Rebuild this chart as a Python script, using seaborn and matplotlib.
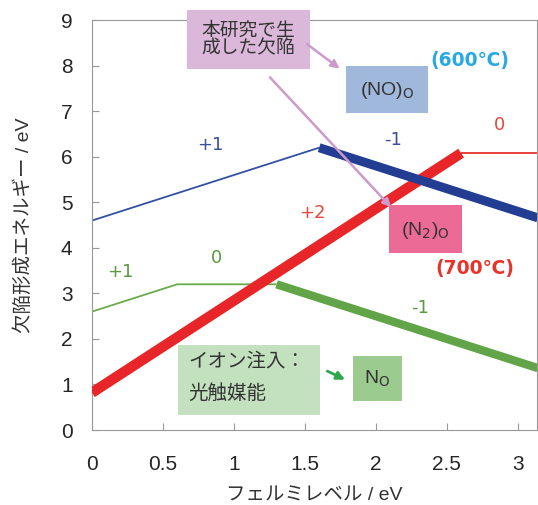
import numpy as np
import pandas as pd
import seaborn as sns
from matplotlib import pyplot as plt
from matplotlib.patches import Rectangle

sns.set_style('ticks')
plt.rcParams['font.family'] = ['Liberation Sans', 'Noto Sans CJK JP', 'DejaVu Sans']
plt.rcParams['mathtext.fontset'] = 'custom'
plt.rcParams['mathtext.rm'] = 'DejaVu Sans'

# (NO)O line, 600C
blue_x_thin = [0, 1.6]
blue_y_thin = [4.6, 6.2]
blue_x_thick = [1.6, 3.14]
blue_y_thick = [6.2, 4.66]
# (N2)O line, 700C
red_x_thick = [0, 2.6]
red_y_thick = [0.82, 6.08]
red_x_thin = [2.6, 3.14]
red_y_thin = [6.08, 6.08]
# NO line
green_x_thin = [0, 0.6, 1.3]
green_y_thin = [2.6, 3.2, 3.2]
green_x_thick = [1.3, 3.14]
green_y_thick = [3.2, 1.36]

xticks = [0, 0.5, 1, 1.5, 2, 2.5, 3]
xticklabels = ['0', '0.5', '1', '1.5', '2', '2.5', '3']
yticks = list(range(0, 10))

fig = plt.figure(figsize=(5.38, 5.05), dpi=100)
ax = fig.add_axes([0.171, 0.1485, 0.827, 0.8115])

def seg(x, y, color, lw, z=2):
    df = pd.DataFrame({'x': x, 'y': y})
    sns.lineplot(data=df, x='x', y='y', color=color, linewidth=lw, ax=ax,
                 solid_capstyle='butt', zorder=z, sort=False)

seg(blue_x_thin, blue_y_thin, '#3450a0', 1.3)
seg(green_x_thin, green_y_thin, '#6aab4c', 1.3)
seg(red_x_thin, red_y_thin, '#e8302e', 1.3)
seg(green_x_thick, green_y_thick, '#62a448', 6)
seg(red_x_thick, red_y_thick, '#e8262a', 7.5, z=3)
seg(blue_x_thick, blue_y_thick, '#223d92', 6.5, z=4)

# charge state labels
lab = dict(fontsize=13, ha='center', va='center', family=['DejaVu Sans'])
ax.text(0.83, 6.25, '+1', color='#3a4f9e', **lab)
ax.text(2.12, 6.36, '-1', color='#3a4f9e', **lab)
ax.text(2.87, 6.7, '0', color='#e8473a', **lab)
ax.text(1.55, 4.76, '+2', color='#e8473a', **lab)
ax.text(0.2, 3.47, '+1', color='#5a9a3a', **lab)
ax.text(0.88, 3.77, '0', color='#5a9a3a', **lab)
ax.text(2.31, 2.67, '-1', color='#5a9a3a', **lab)
ax.text(2.66, 8.12, '(600℃)', color='#29a9e1', fontsize=13.5, fontweight='bold',
        ha='center', va='center', family=['DejaVu Sans'])
ax.text(2.70, 3.55, '(700℃)', color='#e8332a', fontsize=13.5, fontweight='bold',
        ha='center', va='center', family=['DejaVu Sans'])

# boxes
def box(x0, x1, y0, y1, color):
    ax.add_patch(Rectangle((x0, y0), x1 - x0, y1 - y0, facecolor=color,
                           edgecolor='none', zorder=5, clip_on=False))

box(0.669, 1.535, 7.92, 9.22, '#dbb7d9')
ax.text(1.10, 8.57, '本研究で生\n成した欠陥', fontsize=13.5, ha='center', va='center',
        color='#333333', zorder=6, linespacing=1.05)
box(1.789, 2.366, 6.96, 7.99, '#a0b8dc')
ax.text(2.08, 7.45, '(NO)$_\\mathrm{O}$', fontsize=14, ha='center', va='center', color='#333333', zorder=6)
box(2.092, 2.606, 3.88, 4.94, '#ec6b96')
ax.text(2.35, 4.38, '(N$_2$)$_\\mathrm{O}$', fontsize=14, ha='center', va='center', color='#333333', zorder=6)
box(0.606, 1.606, 0.33, 1.87, '#c3e1bf')
ax.text(0.68, 1.5, 'イオン注入：', fontsize=14, ha='left', va='center', color='#333333', zorder=6)
ax.text(0.68, 0.8, '光触媒能', fontsize=14, ha='left', va='center', color='#333333', zorder=6)
box(1.838, 2.183, 0.64, 1.62, '#9ccb8f')
ax.text(2.01, 1.13, 'N$_\\mathrm{O}$', fontsize=14, ha='center', va='center', color='#333333', zorder=6)

# arrows
arrow_kw = dict(arrowstyle='-|>', color='#cc9acb', lw=1.8, mutation_scale=12)
ax.annotate('', xy=(1.76, 7.90), xytext=(1.50, 8.51), arrowprops=arrow_kw, zorder=6)
ax.annotate('', xy=(2.12, 4.85), xytext=(1.24, 7.79), arrowprops=arrow_kw, zorder=6)
ax.annotate('', xy=(1.80, 1.08), xytext=(1.64, 1.32),
            arrowprops=dict(arrowstyle='-|>', color='#2ea84a', lw=2, mutation_scale=12), zorder=6)

ax.set_xlim(0, 3.134)
ax.set_ylim(0, 9)
ax.set_xticks(xticks)
ax.set_xticklabels(xticklabels)
ax.set_yticks(yticks)
ax.tick_params(direction='in', length=5, color='#999999', labelsize=15)
ax.tick_params(axis='x', pad=18)
ax.tick_params(axis='y', pad=14)
for s in ax.spines.values():
    s.set_color('#999999')
ax.set_xlabel('フェルミレベル / eV', fontsize=14, labelpad=10, color='#333333')
ax.set_ylabel('欠陥形成エネルギー / eV', fontsize=14, labelpad=20, color='#333333')

plt.savefig('out.png', dpi=100)
